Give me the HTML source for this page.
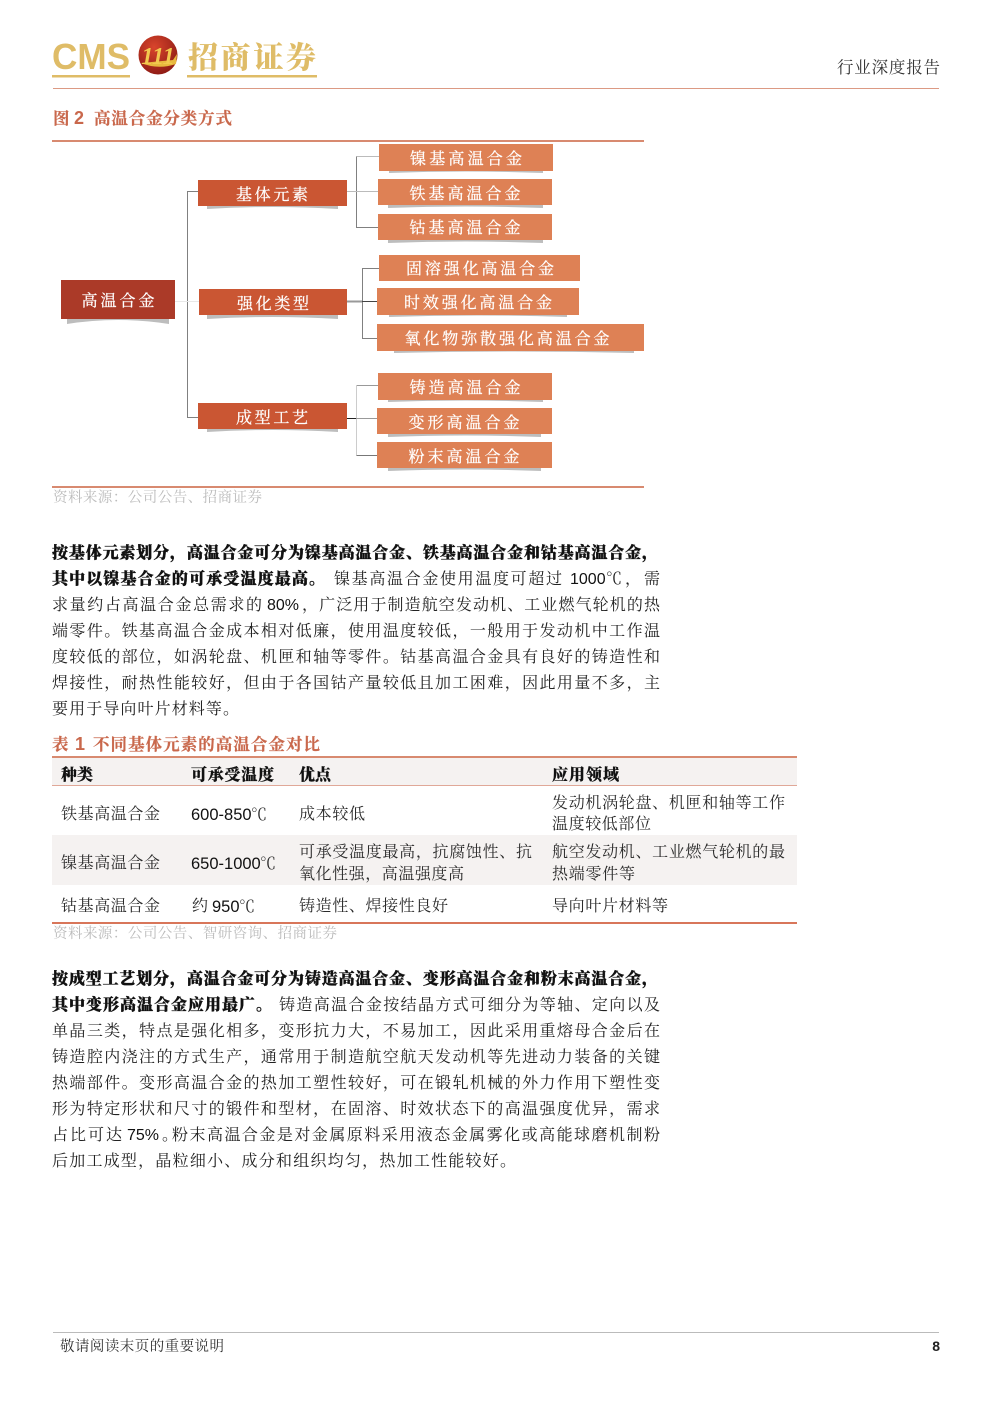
<!DOCTYPE html>
<html><head><meta charset="utf-8"><style>
html,body{margin:0;padding:0;background:#fff;width:992px;height:1403px;overflow:hidden}
svg{display:block}
text{font-family:"Liberation Serif","Noto Serif CJK SC",serif;fill:#222}
.b{font-size:16px;fill:#222}
.bb{font-size:16px;font-weight:900;fill:#111;stroke:#111;stroke-width:.35px}
.w{font-size:16px;fill:#fff;text-anchor:middle;stroke:#fff;stroke-width:.25px}
.t{font-size:16px;fill:#2a2a2a}
.s{font-size:14.500px;fill:#bbb}
.h{font-size:16px;font-weight:900;fill:#111;stroke:#111;stroke-width:.2px}
.cap{font-size:16.500px;font-weight:700;fill:#c9684c;stroke:#c9684c;stroke-width:.2px}
.capn{font-family:"Liberation Sans",sans-serif;font-size:18px;font-weight:700;fill:#c9684c}
.n{font-family:"Liberation Sans",sans-serif;font-size:16.500px;fill:#111}
</style></head><body>
<svg width="992" height="1403" viewBox="0 0 992 1403" xmlns="http://www.w3.org/2000/svg">
<defs><radialGradient id="g" cx="40%" cy="30%" r="75%"><stop offset="0" stop-color="#d9452c"/><stop offset="1" stop-color="#8c1a14"/></radialGradient></defs>
<!-- header -->
<text x="52" y="69" textLength="78" lengthAdjust="spacingAndGlyphs" style="font-family:'Liberation Sans',sans-serif;font-size:36px;font-weight:700;fill:#dfbc67">CMS</text>
<rect x="52" y="75" width="78" height="2.500" fill="#dfbc67"/>
<circle cx="158" cy="55" r="19.500" fill="url(#g)"/>
<path d="M141 63 L173 60 L177 54 L176 64 Q158 70 141 63Z" fill="#e8b93e"/>
<text x="158" y="64" text-anchor="middle" style="font-family:'Liberation Serif',serif;font-size:24px;font-weight:700;font-style:italic;fill:#f2c94f">111</text>
<text x="188" y="68" textLength="128" style="font-family:'Noto Serif CJK SC',serif;font-size:30px;font-weight:900;fill:#dfbc67">招商证券</text>
<rect x="187" y="75" width="130" height="2.500" fill="#dfbc67"/>
<text x="837" y="73" textLength="103" style="font-size:16.500px;fill:#333">行业深度报告</text>
<rect x="53" y="88" width="886" height="1" fill="#dc9a84"/>
<!-- figure -->
<text x="53" y="124" class="cap">图</text><text x="74" y="124" class="capn">2</text>
<text x="94" y="124" class="cap" textLength="138">高温合金分类方式</text>
<rect x="52" y="140" width="592" height="2" fill="#d88a70"/>
<!-- connectors -->
<g fill="none" stroke="#808080" stroke-width="1">
<path d="M198 191.500H187.500V417.500H198"/>
<path d="M175 301.500H199" stroke="#e8e8e8"/>
<path d="M379 156.500H356.500" stroke="#bbb"/>
<path d="M356.500 156.500V227.500H378"/>
<path d="M347 191.500H378" stroke="#bbb"/>
<path d="M379 268.500H362.500V338.500H377"/>
<path d="M347 301.500H362" stroke="#999" stroke-width="2"/>
<path d="M362 301.500H377" stroke="#444"/>
<path d="M379 385.500H356.500" stroke="#999"/>
<path d="M356.500 385.500V455.500" stroke="#ccc"/>
<path d="M356.500 455.500H377" stroke="#777"/>
<path d="M347 418.500H356" stroke="#222"/>
<path d="M356 418.500H377" stroke="#999"/>
</g>
<!-- shadows -->
<g fill="#bdbdbd">
<path d="M67 319H169V324Q118 316 67 324Z"/>
<path d="M207 205H338V209Q272 205 207 209Z"/>
<path d="M207 315H338V319Q272 315 207 319Z"/>
<path d="M207 428H338V432Q272 428 207 432Z"/>
<path d="M389 170H543V173Q466 170 389 173Z"/><path d="M388 205H543V208Q466 205 388 208Z"/><path d="M388 240H543V243Q466 240 388 243Z"/>
<path d="M389 314H567V317Q478 314 389 317Z"/><path d="M394 350H634V353Q514 350 394 353Z"/>
<path d="M388 399H543V402Q466 399 388 402Z"/><path d="M388 434H541V437Q466 434 388 437Z"/><path d="M388 468H541V471Q466 468 388 471Z"/>
</g>
<!-- boxes -->
<rect x="61" y="280" width="114" height="39" fill="#ab3a28"/>
<g fill="#ca5633">
<rect x="198" y="180" width="149" height="26"/><rect x="199" y="289" width="148" height="26"/><rect x="198" y="403" width="149" height="26"/>
</g>
<g fill="#de8155">
<rect x="379" y="144" width="174" height="27"/><rect x="378" y="179" width="174" height="26"/><rect x="378" y="214" width="174" height="26"/>
<rect x="379" y="255" width="201" height="26"/><rect x="377" y="288" width="202" height="27"/><rect x="377" y="324" width="267" height="27"/>
<rect x="378" y="373" width="174" height="27"/><rect x="377" y="408" width="175" height="26"/><rect x="377" y="442" width="175" height="26"/>
</g>
<g>
<text x="118" y="306" class="w" textLength="73">高温合金</text>
<text x="272" y="200" class="w" textLength="72">基体元素</text>
<text x="273" y="309" class="w" textLength="72">强化类型</text>
<text x="272" y="423" class="w" textLength="72">成型工艺</text>
<text x="466" y="164" class="w" textLength="112">镍基高温合金</text>
<text x="465" y="199" class="w" textLength="111">铁基高温合金</text>
<text x="465" y="233" class="w" textLength="111">钴基高温合金</text>
<text x="480" y="274" class="w" textLength="148">固溶强化高温合金</text>
<text x="478" y="308" class="w" textLength="148">时效强化高温合金</text>
<text x="507" y="344" class="w" textLength="205">氧化物弥散强化高温合金</text>
<text x="465" y="393" class="w" textLength="111">铸造高温合金</text>
<text x="464" y="428" class="w" textLength="111">变形高温合金</text>
<text x="464" y="462" class="w" textLength="111">粉末高温合金</text>
</g>
<rect x="52" y="486" width="592" height="2" fill="#d88a70"/>
<text x="53" y="502" class="s" textLength="209">资料来源：公司公告、招商证券</text>
<!-- para 1 -->
<text x="52" y="558" class="bb" textLength="606">按基体元素划分，高温合金可分为镍基高温合金、铁基高温合金和钴基高温合金，</text>
<text x="52" y="584" class="bb" textLength="273">其中以镍基合金的可承受温度最高。</text>
<text x="334" y="584" class="b" textLength="228">镍基高温合金使用温度可超过</text>
<text x="570" y="584" class="n" style="font-size:16px">1000</text>
<text x="606" y="584" class="b" textLength="54">℃，需</text>
<text x="52" y="610" class="b" textLength="210">求量约占高温合金总需求的</text>
<text x="267" y="610" class="n" style="font-size:16px">80%</text>
<text x="302" y="610" class="b" textLength="358">，广泛用于制造航空发动机、工业燃气轮机的热</text>
<text x="52" y="636" class="b" textLength="608">端零件。铁基高温合金成本相对低廉，使用温度较低，一般用于发动机中工作温</text>
<text x="52" y="662" class="b" textLength="608">度较低的部位，如涡轮盘、机匣和轴等零件。钴基高温合金具有良好的铸造性和</text>
<text x="52" y="688" class="b" textLength="608">焊接性，耐热性能较好，但由于各国钴产量较低且加工困难，因此用量不多，主</text>
<text x="52" y="714" class="b" textLength="187">要用于导向叶片材料等。</text>
<!-- table -->
<text x="52" y="750" class="cap">表</text><text x="75" y="750" class="capn">1</text>
<text x="93" y="750" class="cap" textLength="227">不同基体元素的高温合金对比</text>
<rect x="52" y="757" width="745" height="28" fill="#f5f2f1"/>
<rect x="52" y="756" width="745" height="2" fill="#d88a70"/>
<rect x="52" y="785" width="745" height="1" fill="#e0a898"/>
<rect x="52" y="835" width="745" height="50" fill="#f5f2f1"/>
<rect x="52" y="922" width="745" height="2" fill="#d8765a"/>
<text x="61" y="780" class="h" textLength="32">种类</text>
<text x="191" y="780" class="h" textLength="83">可承受温度</text>
<text x="299" y="780" class="h" textLength="32">优点</text>
<text x="552" y="780" class="h" textLength="67">应用领域</text>
<text x="61" y="819" class="t" textLength="99">铁基高温合金</text>
<text x="191" y="820" class="n">600-850</text><text x="251" y="820" class="t">℃</text>
<text x="299" y="819" class="t" textLength="66">成本较低</text>
<text x="552" y="808" class="t" textLength="233">发动机涡轮盘、机匣和轴等工作</text>
<text x="552" y="829" class="t" textLength="99">温度较低部位</text>
<text x="61" y="868" class="t" textLength="99">镍基高温合金</text>
<text x="191" y="869" class="n">650-1000</text><text x="260" y="869" class="t">℃</text>
<text x="299" y="857" class="t" textLength="233">可承受温度最高，抗腐蚀性、抗</text>
<text x="299" y="879" class="t" textLength="165">氧化性强，高温强度高</text>
<text x="552" y="857" class="t" textLength="233">航空发动机、工业燃气轮机的最</text>
<text x="552" y="879" class="t" textLength="83">热端零件等</text>
<text x="61" y="911" class="t" textLength="99">钴基高温合金</text>
<text x="192" y="911" class="t">约</text><text x="212" y="912" class="n">950</text><text x="239" y="912" class="t">℃</text>
<text x="299" y="911" class="t" textLength="149">铸造性、焊接性良好</text>
<text x="552" y="911" class="t" textLength="116">导向叶片材料等</text>
<text x="53" y="938" class="s" textLength="284">资料来源：公司公告、智研咨询、招商证券</text>
<!-- para 2 -->
<text x="52" y="984" class="bb" textLength="606">按成型工艺划分，高温合金可分为铸造高温合金、变形高温合金和粉末高温合金，</text>
<text x="52" y="1010" class="bb" textLength="220">其中变形高温合金应用最广。</text>
<text x="279" y="1010" class="b" textLength="381">铸造高温合金按结晶方式可细分为等轴、定向以及</text>
<text x="52" y="1036" class="b" textLength="608">单晶三类，特点是强化相多，变形抗力大，不易加工，因此采用重熔母合金后在</text>
<text x="52" y="1062" class="b" textLength="608">铸造腔内浇注的方式生产，通常用于制造航空航天发动机等先进动力装备的关键</text>
<text x="52" y="1088" class="b" textLength="608">热端部件。变形高温合金的热加工塑性较好，可在锻轧机械的外力作用下塑性变</text>
<text x="52" y="1114" class="b" textLength="608">形为特定形状和尺寸的锻件和型材，在固溶、时效状态下的高温强度优异，需求</text>
<text x="52" y="1140" class="b" textLength="70">占比可达</text>
<text x="127" y="1140" class="n" style="font-size:16px">75%</text>
<text x="162" y="1140" class="b">。</text>
<text x="172" y="1140" class="b" textLength="488">粉末高温合金是对金属原料采用液态金属雾化或高能球磨机制粉</text>
<text x="52" y="1166" class="b" textLength="464">后加工成型，晶粒细小、成分和组织均匀，热加工性能较好。</text>
<!-- footer -->
<rect x="53" y="1332" width="886" height="1" fill="#bbb"/>
<text x="60" y="1351" textLength="164" style="font-size:14.500px;fill:#333">敬请阅读末页的重要说明</text>
<text x="940" y="1351" text-anchor="end" style="font-family:'Liberation Sans',sans-serif;font-size:14px;font-weight:700;fill:#222">8</text>
</svg>
</body></html>
